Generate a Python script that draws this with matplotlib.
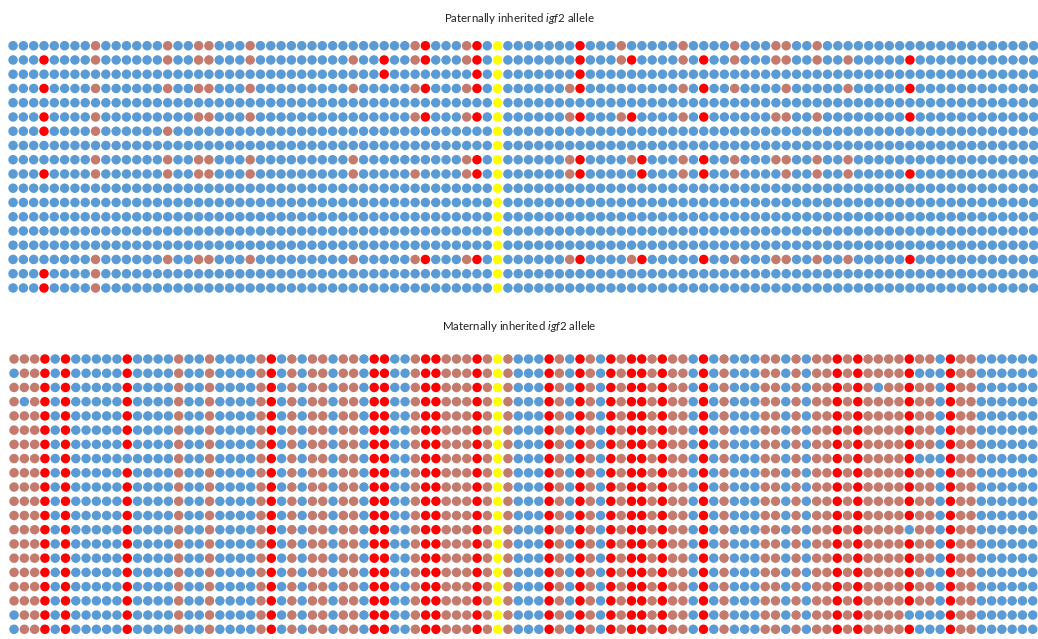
import matplotlib
matplotlib.use("Agg")
import matplotlib.pyplot as plt

plt.rcParams['font.family'] = ['Lato', 'DejaVu Sans']
plt.rcParams['mathtext.fontset'] = 'custom'
plt.rcParams['mathtext.rm'] = 'Lato'
plt.rcParams['mathtext.it'] = 'Lato:italic'

# Site states per clone (row) and CpG site (column), 100 sites per row.
# '.' = unmethylated (blue), 'm' = partially methylated (brown),
# 'r' = methylated (red), 'y' = reference site (yellow)
paternal_rows = [
    "........m. .....m..mm ...m...... .........m r...mr.y.. .....r...m .....m.... m...mm..m. .......... ..........",
    "...r....m. .....m..mm ...m...... ...m..r..m r...mr.y.. .....r...m r....m.r.. m...mm..m. .m.....r.. ..........",
    ".......... .......... .......... ......r... .....r.y.. .....r.... .......... .......... .......... ..........",
    "...r....m. .....m..mm ...m...... ...m.....m r...mr.y.. ....mr.... .....m.r.. m....m.... .m.....r.. ..........",
    ".......... .......... .......... .......... .......y.. .......... .......... .......... .......... ..........",
    "...r....m. ........mm ...m...... .........m r...mr.y.. ....mr...m r....m.r.. ....mm..m. .......r.. ..........",
    "...r....m. .....m.... .......... .......... .......y.. .......... .......... .......... .......... ..........",
    ".......... .......... .......... .......... .......y.. .......... .......... .......... .......... ..........",
    "........m. .....m..mm ...m...... ...m...... ....mr.y.. ....mr.... mr...m.r.. m...mm..m. .m........ ..........",
    "...r....m. .....m..mm ...m...... ...m.....m ....mr.y.. ....mr.... .r...m.r.. m....m..m. .m.....r.. ..........",
    ".......... .......... .......... .......... .......y.. .......... .......... .......... .......... ..........",
    ".......... .......... .......... .......... .......y.. .......... .......... .......... .......... ..........",
    ".......... .......... .......... .......... .......y.. .......... .......... .......... .......... ..........",
    ".......... .......... .......... .......... .......y.. .......... .......... .......... .......... ..........",
    ".......... .......... .......... .......... .......y.. .......... .......... .......... .......... ..........",
    "........m. .....m..mm ...m...... ...m.....m r...mr.y.. ....mr.... mr.....r.. m...mm..m. .m.....r.. ..........",
    "...r....m. .......... .......... .......... .......y.. .......... .......... .......... .......... ..........",
    "...r....m. .......... .......... .......... .......y.. .......... .......... .......... .......... ..........",
]

maternal_rows = [
    "mmmr.r.... .r....m..m ....mr.m.m m.mm.rr..m rrmmmrmym. ..rm.rm.rm rrmrmm.r.m ...mm.m.mm rmrmmmmrmm .rmm......",
    ".mmr.r.... .r....m..m ....mr.m.m m.mm.rr..m rrmmmrmym. ..rm.rm.rm rrmrmm.r.m ...mm.m.mm rmrmmmmr.. .rmm......",
    "mmmr.r.... .r....m..m ....mr.m.m m.mm.rr..m rrmmmrmym. ..rm.rm.rm rrmrmm.r.m ...mm.m.mm rmrm.mmrmm .rmm......",
    "m.mr.r.... .r....m..m ....mr.m.m m.mm.rr..m rrmmmrmym. ..rm.rm.rm rrmrmm.r.m ...mm.m.mm rmrmmmmrmm .rmm......",
    "mmmr.r.... .r....m..m ....mr.m.m m.mm.rr..m rrmmmrmym. ..rm.rm.rm rrmrmm.r.m ...mm.m.mm rmrmmmmrmm .rmm......",
    "mmmr.r.... .r....m..m ....mr.m.m m.mm.rr..m rrmmmrmym. ..rm.rm.rm rrmrmm.r.m ...mm.m.mm rmrmmmmrmm .rmm......",
    "mmmr.r.... .r....m..m ....mr.m.m m.mm.rr..m rrmmmrmym. ..rm.rm.rm rrmrmm.r.m ...mm.m.mm rmrmmmmrmm .rmm......",
    "mmmr.r.... ......m..m ....mr.m.m m.mm.rr..m rrmmmrmym. ..rm.rm.rm rrmrmm.r.m ...mm.m.mm rmrmmmmr.. .rmm......",
    "mmmr.r.... .r....m..m ....mr.m.m m.mm.rr..m rrmmmrmym. ..rm.rm.rm rrmrmm.r.m ...mm.m.mm rmrmmmmrmm .rmm......",
    "mmmr.r.... .r....m..m ....mr.m.m m.mm.rr..m rrmmmrmym. ..rm.rm.rm rrmrmm.r.m ...mm.m.mm rmrmmmmrmm .rmm......",
    "mmmr.r.... .r....m..m ....mr.m.m m.mm.rr..m rrmmmrmym. ..rm.rm.rm rrmrmm.r.m ...mm.m.mm rmrmmmmrmm .rmm......",
    "mmmr.r.... .r....m..m ....mr.m.m m.mm.rr..m rrmmmrmym. ..rm.rm.rm rrmrmm.r.m ...mm.m.mm rmrmmmmrmm .rmm......",
    "mmmr.r.... .r....m..m ....mr.m.m m.mm.rr..m rrmmmrmym. ..rm.rm.rm rrmrmm.r.m ...mm.m.mm rmrmmmm.mm .rmm......",
    "mmmr.r.... .r....m..m ....mr.m.m m.mm.rr..m rrmmmrmym. ..rm.rm.rm rrmrmm.r.m ...mm.m.mm rmrmmmmrmm .rmm......",
    "mmmr.r.... .r....m..m ....mr.m.m m.mm.rr..m rrmmmrmym. ..rm.rm.rm rrmrmm.r.m ...mm.m.mm rmrmmmmrmm .rmm......",
    "mmmr.r.... .r....m..m ....mr.m.m m.mm.rr..m rrmmmrmym. ..rm.rm.rm rrmrmm.r.m ...mm.m.mm rmrmmmmrm. .rmm......",
    "mmmr.r.... .r....m..m ....mr.m.m m.mm.rr..m rrmmmrmym. ..rm.rm.rm rrmrmm.r.m ...mm.m.mm rmrmmmmrmm .rmm......",
    "mmmr.r.... .r....m..m ....mr.m.m m.mm.rr..m rrmmmrmym. ..rm.rm.rm rrmrmm.r.m ...mm.m.mm rmrmmmmrmm .rmm......",
    ".mmr.r.... .r....m..m ....mr.m.m m.mm.rr..m rrmmmrmym. ..rm.rm.rm rrmrmm.r.m ...mm.m.mm rmrmmmm... .rmm......",
    ".mmr.r.... .r....m..m ....mr.m.m m.mm.rr..m rrmmmrmym. ..rm.rm.rm rrmrmm.r.m ...mm.m.mm rmrmmmmr.. .rmm......",
]

panel_titles = [r"Paternally inherited $\mathit{igf2}$ allele",
                r"Maternally inherited $\mathit{igf2}$ allele"]

state_colors = {'.': '#5B9BD5', 'm': '#C57A6E', 'r': '#FF0000', 'y': '#FFFF00'}

W, H = 1038, 639
fig = plt.figure(figsize=(W / 100, H / 100), dpi=100)
fig.patch.set_facecolor('white')

# axes rectangles in pixels: (left, top, right, bottom) of the cell grid
panel_boxes = [(7.9, 38.6, 1038.8, 295.1), (8.9, 351.9, 1037.9, 636.4)]
title_y = [18, 327]


def parse(rows):
    return [list("".join(r.split())) for r in rows]


for rows, box, title, ty in zip([paternal_rows, maternal_rows], panel_boxes, panel_titles, title_y):
    grid = parse(rows)
    l, t, r, b = box
    ax = fig.add_axes([l / W, 1 - b / H, (r - l) / W, (b - t) / H])
    xs, ys, cs = [], [], []
    for i, row in enumerate(grid):
        for j, s in enumerate(row):
            xs.append(j)
            ys.append(i)
            cs.append(state_colors[s])
    ncols = len(grid[0])
    ax.scatter(xs, ys, c=cs, s=47, linewidths=0)
    ax.set_xlim(-0.5, ncols - 0.5)
    ax.set_ylim(len(grid) - 0.5, -0.5)
    ax.axis('off')
    fig.text(0.5, 1 - ty / H, title, ha='center', va='center', fontsize=8.3, color='#222222')

fig.savefig('out.png', dpi=100, facecolor='white')
